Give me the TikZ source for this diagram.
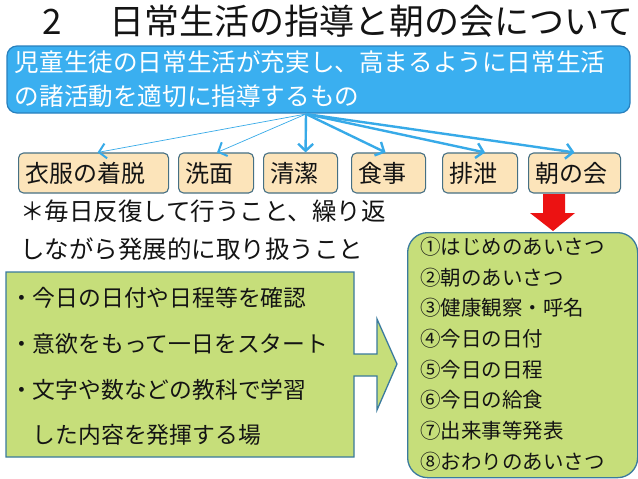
\documentclass[tikz,border=0pt]{standalone}
\usepackage{fontspec}
\setmainfont{Noto Sans CJK JP}
\usetikzlibrary{arrows.meta}
\definecolor{skyfill}{RGB}{58,175,240}
\definecolor{skyline}{RGB}{40,128,190}
\definecolor{peach}{RGB}{252,228,186}
\definecolor{peachline}{RGB}{70,112,132}
\definecolor{leaf}{RGB}{198,222,122}
\definecolor{leafline}{RGB}{58,122,158}
\definecolor{arrowblue}{RGB}{55,170,232}
\definecolor{blockred}{RGB}{236,18,18}
\definecolor{ink}{RGB}{20,20,20}
\tikzset{
  topbox/.style={draw=skyline, fill=skyfill, line width=1.2pt, rounded corners=10pt,
    minimum width=623pt, minimum height=67pt, inner xsep=8pt, inner ysep=0pt,
    text width=607pt, align=left, text=white,
    font=\fontsize{24.6}{34}\selectfont},
  itembox/.style={draw=peachline, fill=peach, line width=1.1pt, rounded corners=5pt,
    minimum height=40pt, inner xsep=7pt, inner ysep=0pt, anchor=west, align=left,
    text=ink, font=\fontsize{24}{24}\selectfont},
  thinarrow/.style={draw=arrowblue, line width=0.7pt,
    -{Straight Barb[length=7pt,width=15pt,line width=2pt]}},
  thickarrow/.style={draw=arrowblue, line width=2.4pt,
    -{Straight Barb[length=7pt,width=15pt,line width=2.4pt]}},
  plain/.style={text=ink, inner sep=0pt, anchor=west, align=left},
  greenbox/.style={draw=leafline, fill=leaf, line width=1.3pt},
}
\begin{document}
\begin{tikzpicture}[x=1pt,y=-1pt]
\useasboundingbox[fill=white] (0,0) rectangle (638,479);

% title
\node[plain, font=\fontsize{35}{35}\selectfont] (title) at (42,21) {2\hspace{48pt}日常生活の指導と朝の会について};

% top box
\node[topbox] (top) at (318.5,79.5) {児童生徒の日常生活が充実し、高まるように日常生活\\の諸活動を適切に指導するもの};
\coordinate (src) at (306,114);

% item boxes
\node[itembox, minimum width=150pt, text width=136pt] (b1) at (18,173) {衣服の着脱};
\node[itembox, minimum width=75pt, text width=61pt] (b2) at (178,173) {洗面};
\node[itembox, minimum width=74pt, text width=60pt] (b3) at (263,173) {清潔};
\node[itembox, minimum width=74pt, text width=60pt] (b4) at (351,173) {食事};
\node[itembox, minimum width=75pt, text width=61pt] (b5) at (442,173) {排泄};
\node[itembox, minimum width=92pt, text width=78pt] (b6) at (528,173) {朝の会};

% arrows from top box
\draw[thinarrow] (src) -- ([xshift=4pt]b1.north);
\draw[thinarrow] (src) -- ([xshift=1pt]b2.north);
\draw[thickarrow] (src) -- ([xshift=5pt]b3.north);
\draw[thickarrow] (src) -- ([xshift=-3pt]b4.north);
\draw[thickarrow] (src) -- ([xshift=5pt]b5.north);
\draw[thickarrow] (src) -- (b6.north);

% note
\node[plain, font=\fontsize{24.5}{38}\selectfont] (note) at (20,230) {＊毎日反復して行うこと、繰り返\\しながら発展的に取り扱うこと};

% left callout (rectangle with right arrow)
\draw[greenbox] (6,272) -- (354,272) -- (354,354) -- (377,354) -- (377,319) -- (397,364)
  -- (377,410) -- (377,376) -- (354,376) -- (354,457) -- (6,457) -- cycle;
\node[plain, font=\fontsize{22.8}{45.7}\selectfont] (left) at (10,366.5)
  {・今日の日付や日程等を確認\\・意欲をもって一日をスタート\\・文字や数などの教科で学習\\　した内容を発揮する場};

% right box
\node[greenbox, rounded corners=20pt, minimum width=230pt, minimum height=245pt, anchor=north west] (right) at (407,232) {};
\node[plain, font=\fontsize{20.5}{30.7}\selectfont] (list) at (420,354)
  {①はじめのあいさつ\\②朝のあいさつ\\③健康観察・呼名\\④今日の日付\\⑤今日の日程\\⑥今日の給食\\⑦出来事等発表\\⑧おわりのあいさつ};

% red block arrow from 朝の会 to the right box
\fill[blockred] (543,194) -- (565,194) -- (565,213) -- (575,213) -- (553,231)
  -- (530,213) -- (543,213) -- cycle;
\end{tikzpicture}
\end{document}
